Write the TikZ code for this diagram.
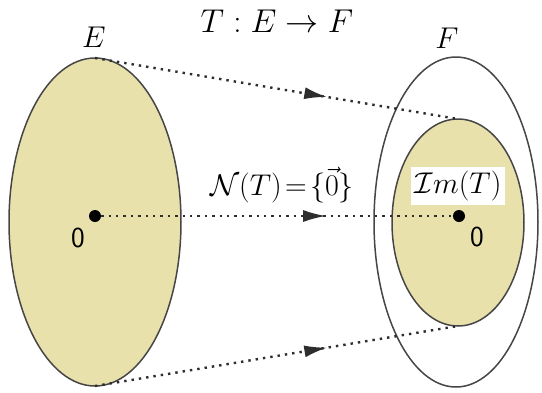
\RequirePackage{fix-cm}
\documentclass[tikz,border=0pt]{standalone}
\usetikzlibrary{shapes.geometric,arrows.meta,decorations.markings}
\definecolor{setfill}{RGB}{233,225,171}
\definecolor{edge}{RGB}{70,70,70}
\definecolor{mapline}{RGB}{45,45,45}
\tikzset{
  setshape/.style={ellipse,draw=edge,line width=1.5pt,inner sep=0pt,outer sep=0pt},
  dotpt/.style={circle,fill=black,inner sep=0pt,minimum size=12pt},
  maparrow/.style={mapline,line width=2.4pt,dash pattern=on 2.4pt off 5pt,
    postaction={decorate},
    decoration={markings,mark=at position 0.64 with {\arrow[mapline]{Latex[length=23pt,width=12pt]}}}},
  lbl/.style={inner sep=0pt,font=\fontsize{30}{36}\selectfont},
  biglbl/.style={inner sep=0pt,font=\fontsize{33}{40}\selectfont},
  zerolbl/.style={inner sep=0pt,font=\fontsize{29}{34}\selectfont\sffamily}
}
\begin{document}
\begin{tikzpicture}[x=1pt,y=-1pt]
\useasboundingbox (0,0) rectangle (542,392);
\node[setshape,fill=setfill,minimum width=172pt,minimum height=328pt] (E) at (95,222) {};
\node[setshape,minimum width=164pt,minimum height=330pt] (F) at (456,222) {};
\node[setshape,fill=setfill,minimum width=132pt,minimum height=207pt] (Im) at (458,222.5) {};
\node[dotpt] (zE) at (95,216) {};
\node[dotpt] (zF) at (459,216) {};
\draw[maparrow] (E.north) -- (Im.north);
\draw[maparrow] (E.south) -- (Im.south);
\draw[maparrow] (zE) -- (zF);
\node[lbl] (lE) at (94,37) {$E$};
\node[lbl] (lF) at (447,38) {$F$};
\node[biglbl] (lT) at (277,21) {$T:E\to F$};
\node[lbl] (lN) at (282,185) {$\mathcal{N}(T)\mskip2mu{=}\mskip2mu\{\vec{0}\}$};
\node[lbl,fill=white,inner sep=4pt] (lIm) at (458,186) {$\mathcal{I}m(T)$};
\node[zerolbl] (oE) at (78,238) {0};
\node[zerolbl] (oF) at (477,237) {0};
\end{tikzpicture}
\end{document}
